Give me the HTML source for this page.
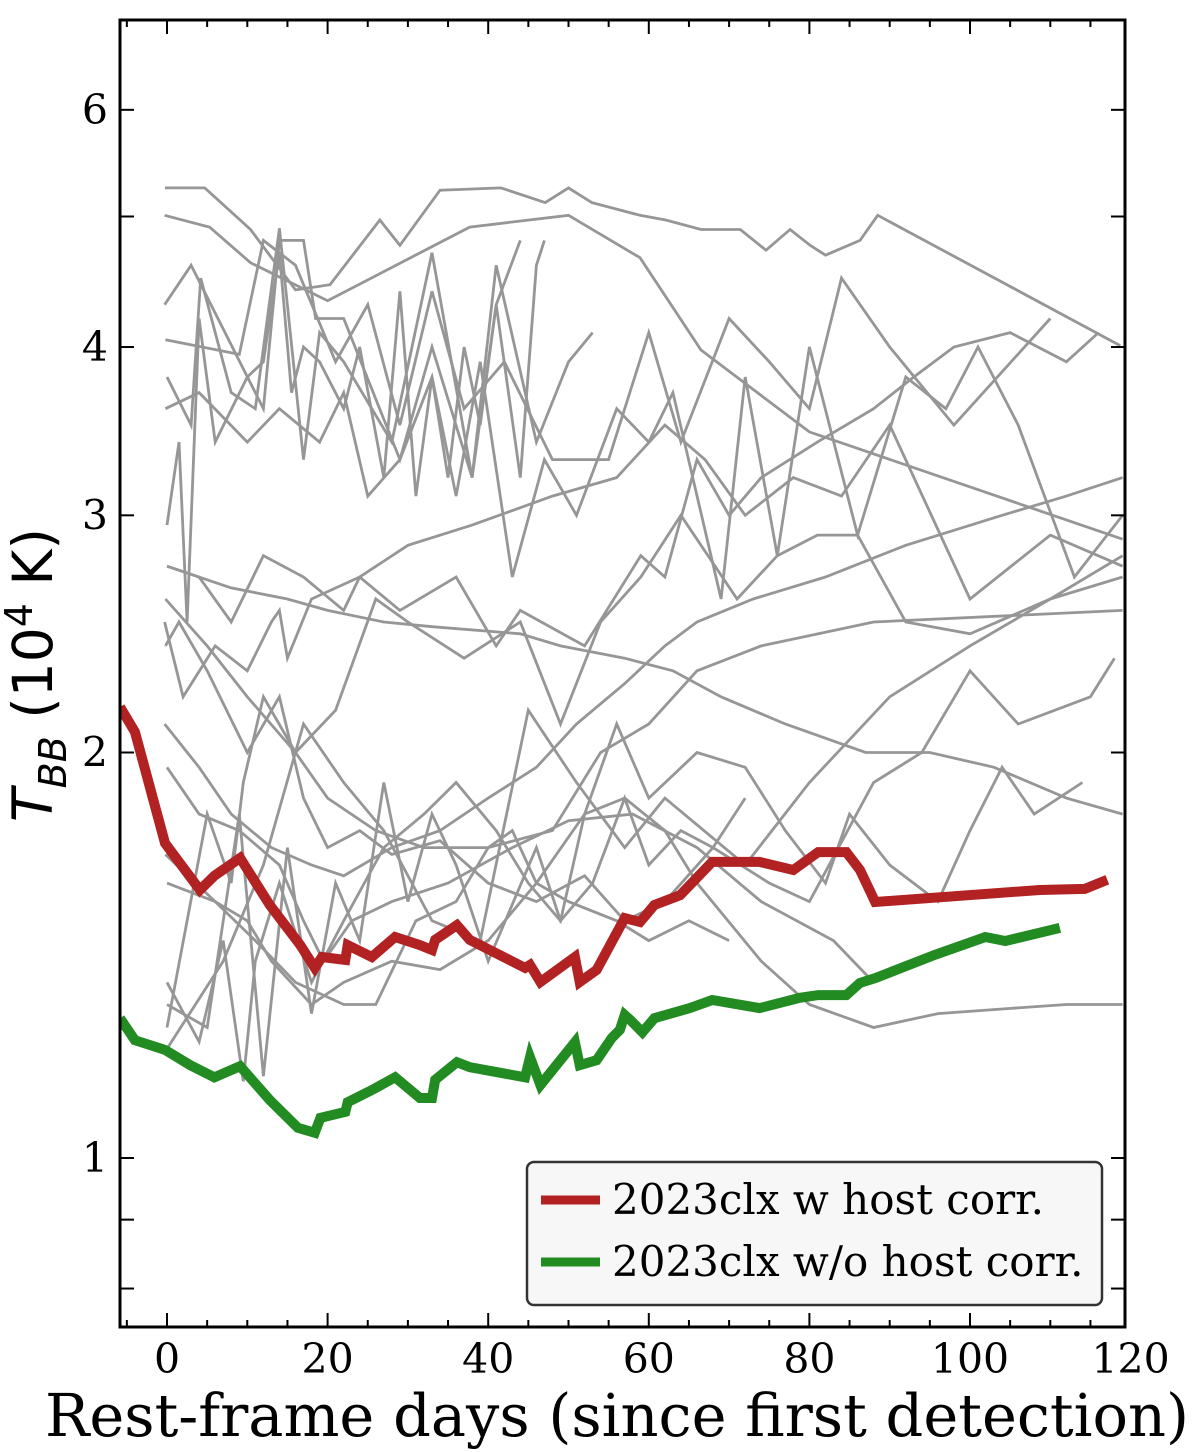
<!DOCTYPE html>
<html><head><meta charset="utf-8"><style>
html,body{margin:0;padding:0;background:#fff;}
svg{display:block;}
</style></head><body>
<svg id="chart" width="1200" height="1452" viewBox="0 0 1200 1452" xmlns="http://www.w3.org/2000/svg">
<g id="grays"></g>
<g id="main"></g>
<g id="axes"></g>
<g id="legend"></g>
</svg>
<script>
const xTicks = [0, 20, 40, 60, 80, 100, 120];
const yTicks = [1, 2, 3, 4, 6];
const yMinorTicks = [0.8, 0.9, 5, 7];
const redDays = [-5.85,-4.0,-0.25,4.1,5.9,9.1,12.8,16.6,18.4,19.3,22.2,22.5,25.5,28.4,31.5,33.0,33.4,36.1,37.7,44.6,45.2,46.5,50.8,51.4,53.5,57.0,58.9,60.7,63.9,67.9,73.8,78.0,81.1,84.6,86.3,88.2,108.7,114.3,117.1];
const redT = [2.162,2.072,1.713,1.581,1.620,1.670,1.541,1.439,1.384,1.410,1.403,1.439,1.410,1.459,1.439,1.427,1.452,1.489,1.452,1.384,1.391,1.351,1.410,1.351,1.379,1.507,1.497,1.541,1.567,1.659,1.659,1.636,1.687,1.687,1.636,1.549,1.581,1.584,1.609];
const greenDays = [-5.85,-4.0,-0.25,2.9,5.9,9.1,12.8,16.3,18.4,19.1,22.2,22.5,25.5,28.4,31.5,33.0,33.4,36.1,37.7,44.6,45.2,46.5,50.8,51.4,53.5,55.4,56.4,57.0,57.7,59.2,60.7,65.1,67.9,73.8,78.8,81.1,84.6,86.3,88.2,95.6,101.9,104.4,111.2];
const greenT = [1.270,1.223,1.203,1.172,1.148,1.170,1.104,1.053,1.044,1.071,1.082,1.100,1.123,1.148,1.108,1.108,1.143,1.178,1.168,1.148,1.188,1.133,1.219,1.172,1.182,1.228,1.245,1.277,1.266,1.240,1.270,1.292,1.310,1.292,1.315,1.321,1.321,1.349,1.360,1.415,1.459,1.449,1.482];
const grayDays = [
 [-0.25,4.7,10.4,16,20.3,26.5,29,34,41.6,47.1,50,52.9,58.9,62.1,66.5,71.4,74.6,77.6,80.1,82,86.3,88.5,118.7],
 [-0.3,5.3,10.4,20,37.7,50,58.9,66.5,80,119],
 [-0.3,3,12,14,17,18.5,22,29,33,38,41,44],
 [-0.2,9,12,16,21,25,29,33,37,42,48,55,60,64,70,75,80,84,90,98,110],
 [0,3,4.2,8,11,14,17,19,22,28,33,38,41,46,50,53],
 [0,1.5,2.5,4,6,10,12,14,15.5,17,19,22,24,27,29,31,33,35,37,39,41,44,46,47],
 [-0.2,4,10,14,19,22,25,29,33,36,39,43,47,51,56,60,63,69,72,76,80,86,92,97,101,106,113,119],
 [0,4,8,12,17,22,24,30,38,48,56,62,67,72,78,84,90,100,110,119],
 [-0.3,2,6,10,13,14,15,18,24,29,36,41,44,52,59,62,66,70,74,81,88,93,98,105,112,116],
 [-0.2,5,10,16,21,26,30,37,44,49,54,59,64,71,76,81,86,92,100,110,119],
 [-0.2,1.5,5,10,14,17,20,24,28,34,40,46,52,57,62,68,75,80,88,94,100,106,115,118],
 [0,8,15,20,27,33,44,49,57,63,69,77,87,95,103,112,119],
 [-0.3,4,8,13,18,22,28,34,40,46,51,57,62,66,73,82,92,104,112,119],
 [0,4,9,14,17,19.5,23,28,35,43,50,58,66,74,83,88],
 [0,6,10,13,18,22,28,34,40,46,52,57,62,66,74,80,88,96,104,112,119],
 [-0.2,6,11,16,22,26,31,36,40,43,46,50,56,60,65,70],
 [0,5,9,12,15,18,21,24,27,30,33,36,40,46,49,53,57,60,64,68,72],
 [0,4,7,9.5,11,14,18,22,27,32,36,41,45,49,52,56,60,66,72,77,82,85,90,96,100,104,108,114],
 [-0.2,7,12,17,22,27,33,39,45,51,57,62,72,80,90,100,110,119],
 [0,5,8,9.5,12,16,20,26,32,40,48,54,60,66,74,88,119]
];
const grayT = [
 [5.25,5.25,4.89,4.41,4.45,4.97,4.76,5.23,5.25,5.12,5.25,5.12,5.01,4.97,4.89,4.89,4.72,4.89,4.76,4.68,4.80,5.01,4.01],
 [5.01,4.91,4.62,4.33,4.91,5.01,4.66,3.98,3.46,2.88],
 [4.3,4.6,3.6,4.8,4.8,4.2,4.2,3.3,4.0,3.2,4.3,4.8],
 [4.05,3.95,4.8,4.6,3.9,4.3,3.5,4.4,3.6,3.9,3.3,3.3,4.1,3.4,4.2,3.9,3.6,4.5,4.0,3.5,4.2],
 [3.8,3.5,4.5,3.7,3.6,4.9,3.3,4.1,3.9,3.4,4.7,3.2,4.6,3.4,3.9,4.1],
 [2.95,3.4,2.5,4.2,3.4,3.8,3.9,4.7,3.7,4.0,3.9,3.6,4.0,3.2,4.4,3.1,3.8,3.2,4.0,3.5,4.3,3.2,4.6,4.8],
 [3.6,3.7,3.4,3.6,3.4,3.7,3.1,3.3,3.8,3.1,3.9,2.7,3.3,3.0,3.6,3.4,3.7,2.6,3.8,2.8,4.0,2.9,3.8,3.6,4.0,3.5,2.7,3.0],
 [2.75,2.7,2.5,2.8,2.7,2.55,2.7,2.85,2.95,3.1,3.2,3.5,3.3,3.0,3.2,3.1,3.5,2.6,2.9,2.75],
 [2.5,2.2,2.4,2.3,2.5,2.55,2.35,2.6,2.7,2.55,2.7,2.4,2.55,2.4,2.8,2.7,3.3,3.0,3.2,3.4,3.6,3.8,4.0,4.1,3.9,4.1],
 [2.6,2.4,2.2,2.0,2.15,2.6,2.5,2.35,2.5,2.1,2.5,2.7,3.0,2.6,2.8,2.9,2.9,2.5,2.45,2.6,2.7],
 [2.4,2.5,2.3,2.0,2.2,1.85,1.7,1.75,1.68,1.72,1.6,1.55,1.62,1.5,1.55,1.7,1.6,1.55,1.9,2.0,2.3,2.1,2.2,2.35],
 [2.75,2.65,2.6,2.55,2.5,2.48,2.45,2.4,2.35,2.3,2.2,2.1,2.0,2.0,1.95,1.85,1.8],
 [2.1,1.95,1.8,1.7,1.65,1.62,1.7,1.75,1.85,1.95,2.1,2.25,2.4,2.5,2.6,2.7,2.85,3.0,3.1,3.2],
 [1.95,1.8,1.75,1.65,1.5,1.4,1.5,1.55,1.6,1.7,1.78,1.8,1.7,1.55,1.45,1.35],
 [1.6,1.55,1.5,1.4,1.3,1.35,1.4,1.38,1.45,1.6,1.8,1.85,1.75,1.6,1.4,1.3,1.25,1.28,1.29,1.3,1.3],
 [1.68,1.55,1.45,1.35,1.3,1.3,1.5,1.55,1.7,1.75,1.6,1.55,1.5,1.45,1.5,1.45],
 [1.3,1.25,1.8,1.15,1.7,1.28,1.6,1.45,1.9,1.55,1.8,1.65,1.4,1.7,1.5,1.6,1.85,1.65,1.75,1.7,1.85],
 [1.35,1.22,1.45,1.14,1.4,1.6,1.35,1.5,1.7,1.8,1.9,1.75,1.6,1.5,1.8,2.1,1.85,2.0,1.95,1.75,1.6,1.8,1.65,1.55,1.75,1.95,1.8,1.9],
 [1.2,1.4,1.65,2.1,1.9,1.75,1.5,1.45,2.15,1.9,1.7,1.85,1.65,1.9,2.2,2.4,2.6,2.8,3.0],
 [1.25,1.8,1.6,1.9,2.2,2.0,1.85,1.75,1.7,1.7,1.75,2.0,2.1,2.3,2.4,2.5,2.55]
];

const X0=167, PXD=8.03, Y1=1158, PXDEC=1347;
const L=120, R=1125, T=20, B=1327;
function sx(d){return X0+d*PXD;}
function sy(v){return Y1-Math.log10(v)*PXDEC;}
const NS='http://www.w3.org/2000/svg';
function mk(tag, parent){const e=document.createElementNS(NS,tag);parent.appendChild(e);return e;}
function pts(ds,vs){return ds.map((d,i)=>sx(d).toFixed(1)+','+sy(vs[i]).toFixed(1)).join(' ');}

const svg=document.getElementById('chart');
const defs=mk('defs',svg);
const cp=mk('clipPath',defs); cp.setAttribute('id','clip');
const cr=mk('rect',cp); cr.setAttribute('x',L); cr.setAttribute('y',T); cr.setAttribute('width',R-L); cr.setAttribute('height',B-T);
svg.insertBefore(defs, svg.firstChild);

const gG=document.getElementById('grays'); gG.setAttribute('clip-path','url(#clip)');
grayDays.forEach((ds,i)=>{
  const p=mk('polyline',gG);
  
  
  p.setAttribute('points',pts(ds,grayT[i]));
  p.setAttribute('fill','none');p.setAttribute('stroke','#969696');p.setAttribute('stroke-width','2.8');p.setAttribute('stroke-linejoin','miter');
});
const gM=document.getElementById('main'); gM.setAttribute('clip-path','url(#clip)');
const gl=mk('polyline',gM);


gl.setAttribute('points',pts(greenDays,greenT));gl.setAttribute('fill','none');gl.setAttribute('stroke','#228b22');gl.setAttribute('stroke-width','10');
const rl=mk('polyline',gM);


rl.setAttribute('points',pts(redDays,redT));rl.setAttribute('fill','none');rl.setAttribute('stroke','#b22222');rl.setAttribute('stroke-width','10');

const gA=document.getElementById('axes');
function line(x1,y1,x2,y2,w,name){const l=mk('line',gA);


l.setAttribute('x1',x1);l.setAttribute('y1',y1);l.setAttribute('x2',x2);l.setAttribute('y2',y2);l.setAttribute('stroke','#000');l.setAttribute('stroke-width',w);}
function text(x,y,s,size,anchor,name,fam){const t=mk('text',gA);


t.setAttribute('x',x);t.setAttribute('y',y);t.setAttribute('font-size',size);t.setAttribute('text-anchor',anchor);t.setAttribute('font-family',fam||'"DejaVu Serif","Liberation Serif",serif');t.textContent=s;return t;}
for(let d=-5;d<=120;d+=5){const x=sx(d);if(x<L||x>R)continue;const major=d%20===0;const len=major?14:7;
 line(x,B,x,B-len,2,'x-tick');line(x,T,x,T+len,2,'x-tick-top');}
xTicks.forEach(d=>text(sx(d),1373,String(d),41,'middle','x-tick-label'));
yTicks.concat(yMinorTicks).forEach(v=>{const y=sy(v);if(y<T||y>B)return;line(L,y,L+14,y,2,'y-tick');line(R,y,R-14,y,2,'y-tick-right');});
yTicks.forEach(v=>text(108,sy(v)+14,String(v),41,'end','y-tick-label'));
const fr=mk('rect',gA);


fr.setAttribute('x',L);fr.setAttribute('y',T);fr.setAttribute('width',R-L);fr.setAttribute('height',B-T);fr.setAttribute('fill','none');fr.setAttribute('stroke','#000');fr.setAttribute('stroke-width','3');
text(617,1436,'Rest-frame days (since first detection)',59,'middle','x-axis-title');
const yt=text(0,0,'',55,'middle','y-axis-title','"DejaVu Sans","Liberation Sans",sans-serif');
yt.setAttribute('transform','translate(52,675) rotate(-90)');
yt.innerHTML='<tspan font-style="italic">T</tspan><tspan font-style="italic" font-size="38" dy="14">BB</tspan><tspan dy="-14"> (10</tspan><tspan font-size="38" dy="-20">4</tspan><tspan dy="20"> K)</tspan>';

const gL=document.getElementById('legend');
const lb=mk('rect',gL);


lb.setAttribute('x',527);lb.setAttribute('y',1162);lb.setAttribute('width',575);lb.setAttribute('height',143);lb.setAttribute('rx',7);lb.setAttribute('fill','#f7f7f7');lb.setAttribute('stroke','#333');lb.setAttribute('stroke-width','2.5');
[['#b22222','2023clx w host corr.',1200],['#228b22','2023clx w/o host corr.',1262]].forEach((e,i)=>{
 const l=mk('line',gL);
 
 
 l.setAttribute('x1',541);l.setAttribute('x2',600);l.setAttribute('y1',e[2]);l.setAttribute('y2',e[2]);l.setAttribute('stroke',e[0]);l.setAttribute('stroke-width','9');
 const t=mk('text',gL);
 
 
 t.setAttribute('x',612);t.setAttribute('y',e[2]+14);t.setAttribute('font-size',42);t.setAttribute('font-family','"DejaVu Serif","Liberation Serif",serif');t.textContent=e[1];
});
</script>
</body></html>
